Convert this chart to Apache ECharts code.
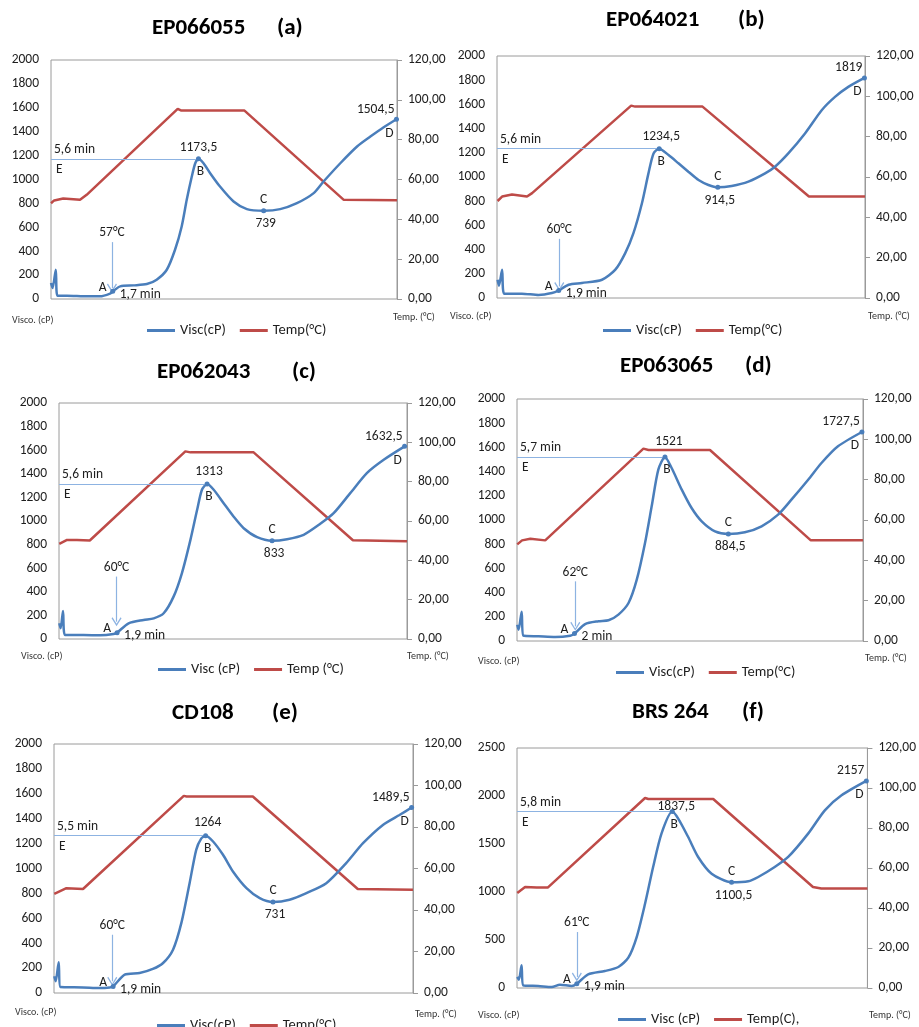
<!DOCTYPE html>
<html>
<head>
<meta charset="utf-8">
<script src="https://cdn.jsdelivr.net/npm/echarts@6/dist/echarts.min.js"></script>
<style>
html,body{margin:0;padding:0;background:#fff;}
#main{width:919px;height:1027px;}
</style>
</head>
<body>
<div id="main"></div>
<script>
// ---------- DATA (time in min, viscosity in cP, temperature in °C) ----------
const viscA = [[0,134],[0.06,92],[0.18,245],[0.24,28],[0.6,28],[1.2,24],[1.84,22],[2.22,45],[2.32,64],[2.6,106],[3.1,114],[3.6,125],[3.97,162],[4.35,245],[4.66,412],[4.91,607],[5.1,830],[5.29,1025],[5.42,1136],[5.54,1173.5],[5.73,1136],[5.98,1053],[6.35,941],[6.86,816],[7.36,752],[7.99,739],[8.61,752],[9.24,802],[9.87,886],[10.24,983],[10.87,1136],[11.5,1276],[12.0,1359],[12.5,1437],[12.98,1504.5]];
const tempA = [[0,48.1],[0.12,49.5],[0.46,50.5],[0.84,50.1],[1.09,49.8],[1.34,52.3],[4.76,95.5],[4.9,94.6],[7.27,94.6],[11.0,49.8],[13,49.6]];
const keyA = [[2.32,64],[5.54,1173.5],[7.99,739],[12.98,1504.5]];
const arrowA = [2.29,476,92];
const textA = ['57°C','1,7 min','1173,5','739','1504,5','5,6 min'];

const viscB = [[0.02,151],[0.07,102],[0.18,233],[0.25,36],[0.88,36],[1.47,25],[1.94,41],[2.18,63],[2.53,110],[3.0,124],[3.71,151],[4.18,234],[4.53,371],[4.82,536],[5.12,783],[5.35,1030],[5.53,1195],[5.73,1234.5],[6.06,1181],[6.41,1113],[6.76,1044],[7.12,975],[7.47,934],[7.8,914.5],[8.29,926],[8.88,962],[9.47,1030],[9.82,1085],[10.29,1195],[10.88,1360],[11.47,1552],[11.94,1662],[12.41,1745],[12.98,1819]];
const tempB = [[0.02,48.1],[0.18,50.3],[0.53,51.3],[1.06,50.3],[1.24,52],[4.74,95.4],[4.88,94.9],[7.26,94.9],[11.02,50.3],[13,50.3]];
const keyB = [[2.18,63],[5.73,1234.5],[7.8,914.5],[12.98,1819]];
const arrowB = [2.2,489,96];
const textB = ['60°C','1,9 min','1234,5','914,5','1819','5,6 min'];

const viscC = [[0.01,133],[0.06,91],[0.15,238],[0.22,34],[0.92,34],[1.54,31],[2.04,42],[2.17,54],[2.6,133],[3.16,161],[3.54,175],[3.91,218],[4.28,359],[4.59,557],[4.91,840],[5.16,1095],[5.34,1265],[5.53,1313],[5.78,1265],[6.15,1151],[6.52,1038],[6.9,939],[7.4,863],[7.96,833],[8.52,846],[9.14,883],[9.76,976],[10.26,1066],[10.88,1236],[11.5,1406],[12.13,1519],[12.91,1632.5]];
const tempC = [[0.01,48.4],[0.3,50.4],[0.67,50.4],[1.15,50.1],[4.72,95.4],[4.91,94.9],[7.27,94.9],[10.98,50.2],[13,49.7]];
const keyC = [[2.17,54],[5.53,1313],[7.96,833],[12.91,1632.5]];
const arrowC = [2.15,529,147];
const textC = ['60°C','1,9 min','1313','833','1632,5','5,6 min'];

const viscD = [[0.01,135],[0.06,94],[0.175,242],[0.24,44],[0.81,39],[1.44,33],[2.0,44],[2.16,61],[2.56,140],[3.06,163],[3.44,171],[3.81,218],[4.19,314],[4.5,507],[4.81,810],[5.06,1113],[5.31,1416],[5.56,1521],[5.81,1430],[6.19,1251],[6.56,1099],[6.94,989],[7.44,906],[7.94,884.5],[8.56,898],[9.19,948],[9.81,1044],[10.31,1168],[10.94,1333],[11.44,1471],[12.06,1609],[12.96,1727.5]];
const tempD = [[0.01,47.9],[0.19,49.9],[0.5,50.7],[1.06,49.9],[4.75,95.4],[4.94,94.7],[7.25,94.7],[11.04,49.9],[13,49.9]];
const keyD = [[2.16,61],[5.56,1521],[7.94,884.5],[12.96,1727.5]];
const arrowD = [2.19,493,121];
const textD = ['62°C','2 min','1521','884,5','1727,5','5,7 min'];

const viscE = [[0.01,134],[0.06,94],[0.17,246],[0.23,48],[1.05,45],[1.65,40],[2.02,45],[2.14,53],[2.56,147],[3.1,160],[3.58,193],[3.95,241],[4.31,348],[4.61,561],[4.91,882],[5.15,1150],[5.33,1240],[5.49,1264],[5.76,1217],[6.12,1110],[6.48,976],[6.97,842],[7.45,762],[7.93,731],[8.53,749],[9.14,802],[9.86,882],[10.58,1043],[11.19,1203],[11.91,1350],[12.51,1430],[12.95,1489.5]];
const tempE = [[0.01,47.8],[0.45,50.5],[1.05,50.1],[4.7,95],[4.8,94.7],[7.2,94.7],[11.0,50.1],[13,49.7]];
const keyE = [[2.14,53],[5.49,1264],[7.93,731],[12.95,1489.5]];
const arrowE = [2.11,468,94];
const textE = ['60°C','1,9 min','1264','731','1489,5','5,5 min'];

const viscF = [[0.01,115],[0.07,87],[0.17,236],[0.23,28],[0.79,21],[1.29,10],[1.59,35],[2.03,21],[2.22,45],[2.64,142],[3.26,177],[3.76,219],[4.13,316],[4.44,531],[4.75,878],[5.05,1260],[5.36,1608],[5.76,1837.5],[5.98,1764],[6.35,1573],[6.72,1365],[7.22,1191],[7.96,1100.5],[8.58,1111],[8.95,1156],[9.56,1260],[10.06,1365],[10.8,1608],[11.42,1851],[12.04,2007],[12.96,2157]];
const tempF = [[0.01,47.5],[0.3,50.5],[0.73,50.2],[1.14,50.2],[4.75,95],[4.87,94.5],[7.28,94.5],[10.98,50.5],[11.29,49.7],[13,49.7]];
const keyF = [[2.22,45],[5.76,1837.5],[7.96,1100.5],[12.96,2157]];
const arrowF = [2.22,583,115];
const textF = ['61°C','1,9 min','1837,5','1100,5','2157','5,8 min'];

const titles = ['EP066055','EP064021','EP062043','EP063065','CD108','BRS 264'];
const letters = ['(a)','(b)','(c)','(d)','(e)','(f)'];
const viscNames = ['Visc(cP)','Visc(cP)','Visc (cP)','Visc(cP)','Visc(cP)','Visc (cP)'];
const tempNames = ['Temp(°C)','Temp(°C)','Temp (°C)','Temp(°C)','Temp(°C)','Temp(C),'];
const viscMax = [2000,2000,2000,2000,2000,2500];
const viscStep = [200,200,200,200,200,500];

// ---------- LAYOUT ----------
const grids = [
  {left:51, top:60, width:346, height:239},
  {left:497, top:56, width:368, height:242},
  {left:59, top:403, width:348, height:236},
  {left:517, top:399, width:346, height:242},
  {left:54, top:744, width:359, height:249},
  {left:517, top:748, width:351, height:240}
];
const titlePos = [[152,277,30],[606,738,22],[157,292,374],[620,745,368],[172,272,715],[632,742,714]];
const legendPos = [[142,327],[598,327],[153,666],[611,669],[152,1022],[613,1016]];
const viscoPos = [[12,321],[450,317],[21,657],[478,662],[15,1013],[478,1016]];
const tempPos = [[393,318],[868,317],[407,657],[865,659],[415,1015],[869,1016]];
const bValOff = [[0,-11],[2,-12],[2,-12],[4,-15],[2,-13],[4,-5]];

const FONT = 'Carlito, Lato, "Liberation Sans", sans-serif';
const BLUE = '#4a7ebb', RED = '#be4b48', LIGHT = '#8db3e2', GRAY = '#9a9a9a', TXT = '#1e1e1e';
const CHEVRON = 'path://M5,0 L10,8 L9,9 L5,2.4 L1,9 L0,8 Z';

const viscs = [viscA,viscB,viscC,viscD,viscE,viscF];
const temps = [tempA,tempB,tempC,tempD,tempE,tempF];
const keys = [keyA,keyB,keyC,keyD,keyE,keyF];
const arrows = [arrowA,arrowB,arrowC,arrowD,arrowE,arrowF];
const texts = [textA,textB,textC,textD,textE,textF];

const lbl = (txt, off, extra) => Object.assign({show:true, formatter:txt, position:'inside', offset:off,
  color:TXT, fontFamily:FONT, fontSize:13.5}, extra || {});

const option = {
  animation:false,
  backgroundColor:'#fff',
  grid:[], xAxis:[], yAxis:[], series:[], legend:[], graphic:[]
};

for (let i = 0; i < 6; i++) {
  const g = grids[i];
  option.grid.push(Object.assign({show:true, borderColor:GRAY, borderWidth:1, backgroundColor:'transparent', containLabel:false}, g));
  option.xAxis.push({type:'value', gridIndex:i, min:0, max:13, show:false});
  option.yAxis.push({type:'value', gridIndex:i, min:0, max:viscMax[i], interval:viscStep[i], position:'left',
    axisLine:{show:false}, axisTick:{show:false}, splitLine:{show:false},
    axisLabel:{color:TXT, fontFamily:FONT, fontSize:13.5, margin:12, formatter: v => String(v)}});
  option.yAxis.push({type:'value', gridIndex:i, min:0, max:120, interval:20, position:'right',
    axisLine:{show:true, lineStyle:{color:GRAY}}, axisTick:{show:true, length:5, lineStyle:{color:GRAY}},
    splitLine:{show:false},
    axisLabel:{color:TXT, fontFamily:FONT, fontSize:13.5, margin:11,
      formatter: v => v.toFixed(2).replace('.', ',')}});

  const k = keys[i], t = texts[i], a = arrows[i];
  option.series.push({
    type:'line', name:viscNames[i], xAxisIndex:i, yAxisIndex:2*i, data:viscs[i],
    showSymbol:false, smooth:0.25,
    lineStyle:{color:BLUE, width:2.5}, itemStyle:{color:BLUE}, z:3,
    markPoint:{
      silent:true, symbol:'circle', animation:false,
      itemStyle:{color:BLUE},
      data:[
        {coord:k[0], symbolSize:5, label:lbl('A',[-10,-4])},
        {coord:k[0], symbolSize:0, label:lbl(t[1],[3,3],{position:'right', distance:4})},
        {coord:k[1], symbolSize:5, label:lbl('B',[2,13])},
        {coord:k[1], symbolSize:0, label:lbl(t[2],bValOff[i])},
        {coord:k[2], symbolSize:5, label:lbl('C',[0,-11])},
        {coord:k[2], symbolSize:0, label:lbl(t[3],[2,13])},
        {coord:k[3], symbolSize:5, label:lbl('D',[-7,14])},
        {coord:k[3], symbolSize:0, label:lbl(t[4],[-2,-10],{align:'right'})},
        {coord:[0,k[1][1]], symbolSize:0, label:lbl(t[5],[3,-9],{align:'left'})},
        {coord:[0,k[1][1]], symbolSize:0, label:lbl('E',[5,11],{align:'left'})},
        {coord:[a[0],a[1]], symbolSize:0, label:lbl(t[0],[0,-9])}
      ]
    },
    markLine:{
      silent:true, animation:false, symbol:['none','none'], label:{show:false},
      lineStyle:{color:LIGHT, width:1.2, type:'solid'},
      emphasis:{disabled:true},
      data:[
        [{coord:[0,k[1][1]]},{coord:[k[1][0],k[1][1]]}],
        [{coord:[a[0],a[1]]},{coord:[a[0],a[2]], symbol:CHEVRON, symbolSize:[10,9]}]
      ]
    }
  });
  option.series.push({
    type:'line', name:tempNames[i], xAxisIndex:i, yAxisIndex:2*i+1, data:temps[i],
    showSymbol:false, lineStyle:{color:RED, width:2.5}, itemStyle:{color:RED}, z:2
  });

  option.legend.push({
    data:[viscNames[i], tempNames[i]], left:legendPos[i][0], top:legendPos[i][1]-9,
    icon:'rect', itemWidth:28, itemHeight:3, itemGap:14, selectedMode:false,
    textStyle:{color:TXT, fontFamily:FONT, fontSize:14.5}
  });

  const tp = titlePos[i];
  option.graphic.push({type:'text', left:tp[0], top:tp[2]-13, silent:true,
    style:{text:titles[i], fill:'#000', font:'bold 23px ' + FONT}});
  option.graphic.push({type:'text', left:tp[1], top:tp[2]-13, silent:true,
    style:{text:letters[i], fill:'#000', font:'bold 23px ' + FONT}});
  option.graphic.push({type:'text', left:viscoPos[i][0], top:viscoPos[i][1]-6, silent:true,
    style:{text:'Visco. (cP)', fill:'#333', font:'10px ' + FONT}});
  option.graphic.push({type:'text', left:tempPos[i][0], top:tempPos[i][1]-6, silent:true,
    style:{text:'Temp. (°C)', fill:'#333', font:'10px ' + FONT}});
}

const chart = echarts.init(document.getElementById('main'), null, {renderer:'canvas'});
chart.setOption(option);
</script>
</body>
</html>
